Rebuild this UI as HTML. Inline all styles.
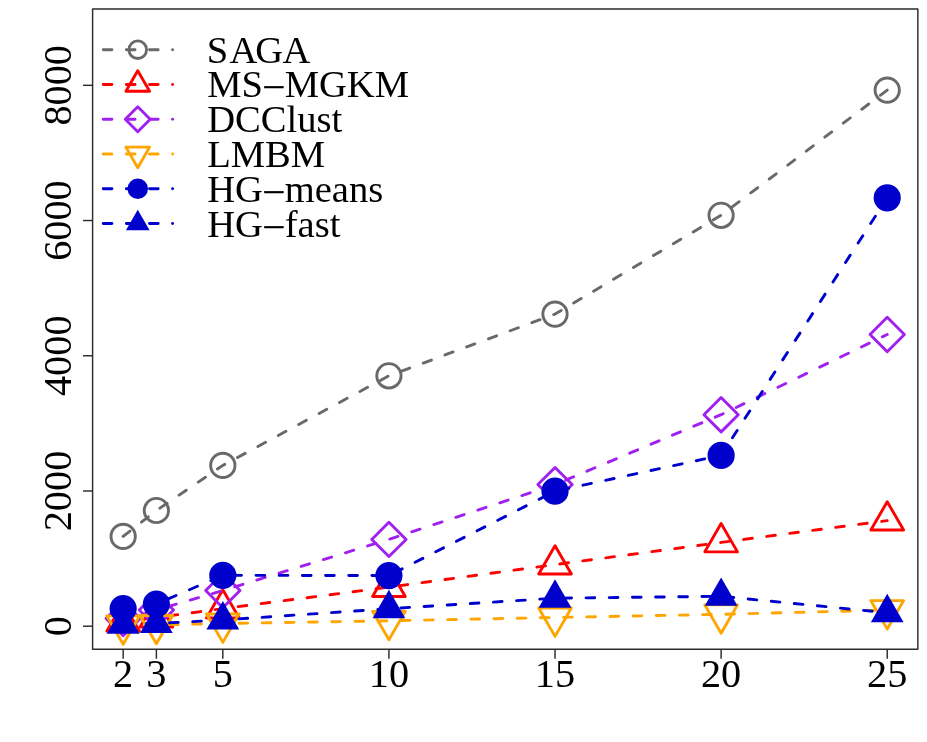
<!DOCTYPE html><html><head><meta charset="utf-8"><title>chart</title><style>html,body{margin:0;padding:0;background:#fff}svg{display:block;will-change:transform}text{font-family:"Liberation Serif",serif;fill:#000}</style></head><body>
<svg width="927" height="742" viewBox="0 0 927 742">
<rect x="0" y="0" width="927" height="742" fill="#fff"/>
<g><polyline points="123.16,536.40 156.38,510.50 222.82,465.40 388.92,375.80 555.02,314.10 721.12,215.30 887.22,90.10" fill="none" stroke="#696969" stroke-width="2.89" stroke-linecap="round" stroke-linejoin="round" stroke-dasharray="8.694 14.490"/>
<circle cx="123.16" cy="536.40" r="12.15" fill="none" stroke="#696969" stroke-width="2.89"/>
<circle cx="156.38" cy="510.50" r="12.15" fill="none" stroke="#696969" stroke-width="2.89"/>
<circle cx="222.82" cy="465.40" r="12.15" fill="none" stroke="#696969" stroke-width="2.89"/>
<circle cx="388.92" cy="375.80" r="12.15" fill="none" stroke="#696969" stroke-width="2.89"/>
<circle cx="555.02" cy="314.10" r="12.15" fill="none" stroke="#696969" stroke-width="2.89"/>
<circle cx="721.12" cy="215.30" r="12.15" fill="none" stroke="#696969" stroke-width="2.89"/>
<circle cx="887.22" cy="90.10" r="12.15" fill="none" stroke="#696969" stroke-width="2.89"/>
</g>
<g><polyline points="123.16,621.80 156.38,617.50 222.82,608.60 388.92,587.10 555.02,564.60 721.12,542.40 887.22,520.60" fill="none" stroke="#FF0000" stroke-width="2.89" stroke-linecap="round" stroke-linejoin="round" stroke-dasharray="8.694 14.490"/>
<polygon points="123.16,602.91 139.53,631.25 106.80,631.25" fill="none" stroke="#FF0000" stroke-width="2.89" stroke-linejoin="round"/>
<polygon points="156.38,598.61 172.75,626.95 140.02,626.95" fill="none" stroke="#FF0000" stroke-width="2.89" stroke-linejoin="round"/>
<polygon points="222.82,589.71 239.19,618.05 206.46,618.05" fill="none" stroke="#FF0000" stroke-width="2.89" stroke-linejoin="round"/>
<polygon points="388.92,568.21 405.29,596.55 372.56,596.55" fill="none" stroke="#FF0000" stroke-width="2.89" stroke-linejoin="round"/>
<polygon points="555.02,545.71 571.39,574.05 538.66,574.05" fill="none" stroke="#FF0000" stroke-width="2.89" stroke-linejoin="round"/>
<polygon points="721.12,523.51 737.49,551.85 704.76,551.85" fill="none" stroke="#FF0000" stroke-width="2.89" stroke-linejoin="round"/>
<polygon points="887.22,501.71 903.59,530.05 870.86,530.05" fill="none" stroke="#FF0000" stroke-width="2.89" stroke-linejoin="round"/>
</g>
<g><polyline points="123.16,618.50 156.38,610.00 222.82,590.50 388.92,539.40 555.02,484.60 721.12,414.70 887.22,334.50" fill="none" stroke="#A020F0" stroke-width="2.89" stroke-linecap="round" stroke-linejoin="round" stroke-dasharray="8.694 14.490"/>
<polygon points="105.98,618.50 123.16,635.68 140.35,618.50 123.16,601.32" fill="none" stroke="#A020F0" stroke-width="2.89" stroke-linejoin="round"/>
<polygon points="139.20,610.00 156.38,627.18 173.57,610.00 156.38,592.82" fill="none" stroke="#A020F0" stroke-width="2.89" stroke-linejoin="round"/>
<polygon points="205.64,590.50 222.82,607.68 240.01,590.50 222.82,573.32" fill="none" stroke="#A020F0" stroke-width="2.89" stroke-linejoin="round"/>
<polygon points="371.74,539.40 388.92,556.58 406.11,539.40 388.92,522.22" fill="none" stroke="#A020F0" stroke-width="2.89" stroke-linejoin="round"/>
<polygon points="537.84,484.60 555.02,501.78 572.21,484.60 555.02,467.42" fill="none" stroke="#A020F0" stroke-width="2.89" stroke-linejoin="round"/>
<polygon points="703.94,414.70 721.12,431.88 738.31,414.70 721.12,397.52" fill="none" stroke="#A020F0" stroke-width="2.89" stroke-linejoin="round"/>
<polygon points="870.04,334.50 887.22,351.68 904.41,334.50 887.22,317.32" fill="none" stroke="#A020F0" stroke-width="2.89" stroke-linejoin="round"/>
</g>
<g><polyline points="123.16,625.30 156.38,624.90 222.82,623.50 388.92,620.80 555.02,617.50 721.12,614.30 887.22,610.10" fill="none" stroke="#FFA500" stroke-width="2.89" stroke-linecap="round" stroke-linejoin="round" stroke-dasharray="8.694 14.490"/>
<polygon points="123.16,644.19 139.53,615.85 106.80,615.85" fill="none" stroke="#FFA500" stroke-width="2.89" stroke-linejoin="round"/>
<polygon points="156.38,643.79 172.75,615.45 140.02,615.45" fill="none" stroke="#FFA500" stroke-width="2.89" stroke-linejoin="round"/>
<polygon points="222.82,642.39 239.19,614.05 206.46,614.05" fill="none" stroke="#FFA500" stroke-width="2.89" stroke-linejoin="round"/>
<polygon points="388.92,639.69 405.29,611.35 372.56,611.35" fill="none" stroke="#FFA500" stroke-width="2.89" stroke-linejoin="round"/>
<polygon points="555.02,636.39 571.39,608.05 538.66,608.05" fill="none" stroke="#FFA500" stroke-width="2.89" stroke-linejoin="round"/>
<polygon points="721.12,633.19 737.49,604.85 704.76,604.85" fill="none" stroke="#FFA500" stroke-width="2.89" stroke-linejoin="round"/>
<polygon points="887.22,628.99 903.59,600.65 870.86,600.65" fill="none" stroke="#FFA500" stroke-width="2.89" stroke-linejoin="round"/>
</g>
<g><polyline points="123.16,608.60 156.38,604.00 222.82,575.30 388.92,575.60 555.02,491.20 721.12,455.40 887.22,197.80" fill="none" stroke="#0000CD" stroke-width="2.89" stroke-linecap="round" stroke-linejoin="round" stroke-dasharray="8.694 14.490"/>
<circle cx="123.16" cy="608.60" r="12.15" fill="#0000CD" stroke="#0000CD" stroke-width="2.89"/>
<circle cx="156.38" cy="604.00" r="12.15" fill="#0000CD" stroke="#0000CD" stroke-width="2.89"/>
<circle cx="222.82" cy="575.30" r="12.15" fill="#0000CD" stroke="#0000CD" stroke-width="2.89"/>
<circle cx="388.92" cy="575.60" r="12.15" fill="#0000CD" stroke="#0000CD" stroke-width="2.89"/>
<circle cx="555.02" cy="491.20" r="12.15" fill="#0000CD" stroke="#0000CD" stroke-width="2.89"/>
<circle cx="721.12" cy="455.40" r="12.15" fill="#0000CD" stroke="#0000CD" stroke-width="2.89"/>
<circle cx="887.22" cy="197.80" r="12.15" fill="#0000CD" stroke="#0000CD" stroke-width="2.89"/>
</g>
<g><polyline points="123.16,624.20 156.38,623.50 222.82,620.00 388.92,608.70 555.02,598.20 721.12,596.30 887.22,612.70" fill="none" stroke="#0000CD" stroke-width="2.89" stroke-linecap="round" stroke-linejoin="round" stroke-dasharray="8.694 14.490"/>
<polygon points="123.16,605.31 139.53,633.65 106.80,633.65" fill="#0000CD"/>
<polygon points="156.38,604.61 172.75,632.95 140.02,632.95" fill="#0000CD"/>
<polygon points="222.82,601.11 239.19,629.45 206.46,629.45" fill="#0000CD"/>
<polygon points="388.92,589.81 405.29,618.15 372.56,618.15" fill="#0000CD"/>
<polygon points="555.02,579.31 571.39,607.65 538.66,607.65" fill="#0000CD"/>
<polygon points="721.12,577.41 737.49,605.75 704.76,605.75" fill="#0000CD"/>
<polygon points="887.22,593.81 903.59,622.15 870.86,622.15" fill="#0000CD"/>
</g>
<g stroke="#2b2b2b" stroke-width="1.445" fill="none" stroke-linecap="butt">
<rect x="92.6" y="9.05" width="825.25" height="640.15" stroke-linejoin="round"/>
<line x1="123.16" y1="649.2" x2="123.16" y2="658.70"/>
<line x1="156.38" y1="649.2" x2="156.38" y2="658.70"/>
<line x1="222.82" y1="649.2" x2="222.82" y2="658.70"/>
<line x1="388.92" y1="649.2" x2="388.92" y2="658.70"/>
<line x1="555.02" y1="649.2" x2="555.02" y2="658.70"/>
<line x1="721.12" y1="649.2" x2="721.12" y2="658.70"/>
<line x1="887.22" y1="649.2" x2="887.22" y2="658.70"/>
<line x1="92.6" y1="626.20" x2="83.00" y2="626.20"/>
<line x1="92.6" y1="490.98" x2="83.00" y2="490.98"/>
<line x1="92.6" y1="355.76" x2="83.00" y2="355.76"/>
<line x1="92.6" y1="220.54" x2="83.00" y2="220.54"/>
<line x1="92.6" y1="85.32" x2="83.00" y2="85.32"/>
</g>
<g font-size="40.3px" text-anchor="middle" opacity="0.999">
<text x="123.16" y="686.9">2</text>
<text x="156.38" y="686.9">3</text>
<text x="222.82" y="686.9">5</text>
<text x="388.92" y="686.9">10</text>
<text x="555.02" y="686.9">15</text>
<text x="721.12" y="686.9">20</text>
<text x="887.22" y="686.9">25</text>
<text transform="translate(71.0,626.20) rotate(-90)" x="0" y="0">0</text>
<text transform="translate(71.0,490.98) rotate(-90)" x="0" y="0">2000</text>
<text transform="translate(71.0,355.76) rotate(-90)" x="0" y="0">4000</text>
<text transform="translate(71.0,220.54) rotate(-90)" x="0" y="0">6000</text>
<text transform="translate(71.0,85.32) rotate(-90)" x="0" y="0">8000</text>
</g>
<line x1="103.25" y1="49.70" x2="172.6" y2="49.70" stroke="#696969" stroke-width="2.89" stroke-linecap="round" stroke-dasharray="8.670 14.450"/>
<circle cx="172.6" cy="49.70" r="1.445" fill="#696969"/>
<circle cx="137.75" cy="49.70" r="8.80" fill="none" stroke="#696969" stroke-width="2.89"/>
<line x1="103.25" y1="84.46" x2="172.6" y2="84.46" stroke="#FF0000" stroke-width="2.89" stroke-linecap="round" stroke-dasharray="8.670 14.450"/>
<circle cx="172.6" cy="84.46" r="1.445" fill="#FF0000"/>
<polygon points="137.75,70.77 149.60,91.30 125.90,91.30" fill="none" stroke="#FF0000" stroke-width="2.89" stroke-linejoin="round"/>
<line x1="103.25" y1="119.22" x2="172.6" y2="119.22" stroke="#A020F0" stroke-width="2.89" stroke-linecap="round" stroke-dasharray="8.670 14.450"/>
<circle cx="172.6" cy="119.22" r="1.445" fill="#A020F0"/>
<polygon points="125.30,119.22 137.75,131.67 150.20,119.22 137.75,106.77" fill="none" stroke="#A020F0" stroke-width="2.89" stroke-linejoin="round"/>
<line x1="103.25" y1="153.98" x2="172.6" y2="153.98" stroke="#FFA500" stroke-width="2.89" stroke-linecap="round" stroke-dasharray="8.670 14.450"/>
<circle cx="172.6" cy="153.98" r="1.445" fill="#FFA500"/>
<polygon points="137.75,167.67 149.60,147.14 125.90,147.14" fill="none" stroke="#FFA500" stroke-width="2.89" stroke-linejoin="round"/>
<line x1="103.25" y1="188.74" x2="172.6" y2="188.74" stroke="#0000CD" stroke-width="2.89" stroke-linecap="round" stroke-dasharray="8.670 14.450"/>
<circle cx="172.6" cy="188.74" r="1.445" fill="#0000CD"/>
<circle cx="137.75" cy="188.74" r="8.80" fill="#0000CD" stroke="#0000CD" stroke-width="2.89"/>
<line x1="103.25" y1="223.50" x2="172.6" y2="223.50" stroke="#0000CD" stroke-width="2.89" stroke-linecap="round" stroke-dasharray="8.670 14.450"/>
<circle cx="172.6" cy="223.50" r="1.445" fill="#0000CD"/>
<polygon points="137.75,209.81 149.60,230.34 125.90,230.34" fill="#0000CD"/>
<g font-size="38.6px" opacity="0.999">
<text x="206.7 229.4 255.2 282.5" y="62.90">SAGA</text>
<text x="207.2" y="97.00">MS<tspan dx="1.9" dy="-0.8" font-size="36.5px" stroke="#000" stroke-width="0.6">–</tspan><tspan dx="1.6" dy="0.8">MGKM</tspan></text>
<text x="207.2" y="131.80">DCClust</text>
<text x="207.2" y="167.00">LMBM</text>
<text x="207.2" y="201.80">HG<tspan dx="1.9" dy="-0.8" font-size="36.5px" stroke="#000" stroke-width="0.6">–</tspan><tspan dx="1.6" dy="0.8">means</tspan></text>
<text x="207.2" y="236.80">HG<tspan dx="1.9" dy="-0.8" font-size="36.5px" stroke="#000" stroke-width="0.6">–</tspan><tspan dx="1.6" dy="0.8">fast</tspan></text>
</g>
</svg></body></html>
